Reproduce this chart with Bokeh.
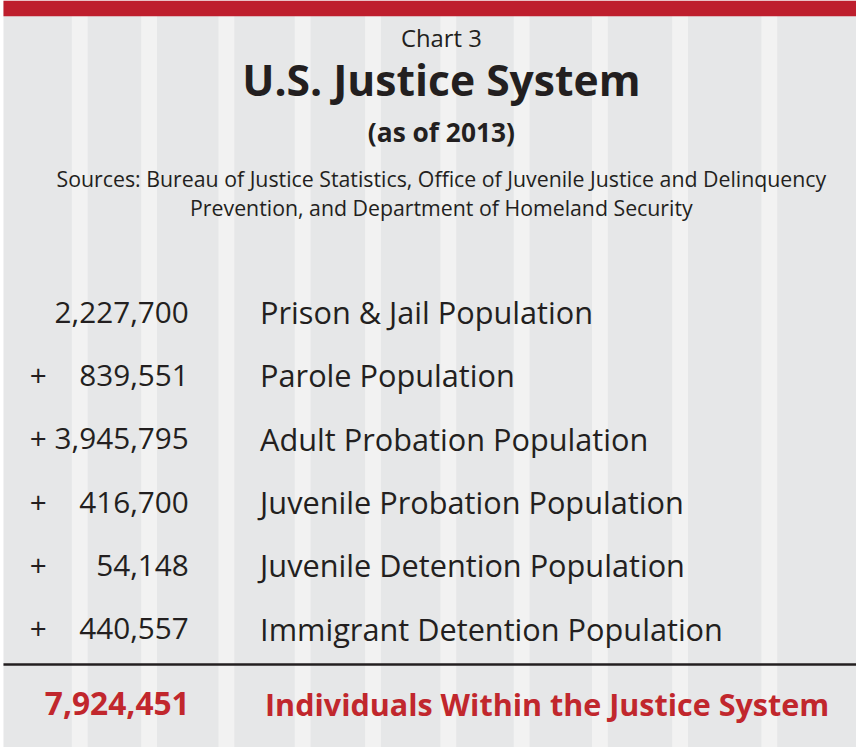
from bokeh.plotting import figure
from bokeh.models import ColumnDataSource, Range1d
from bokeh.core.properties import value
from bokeh.embed import file_html
from bokeh.resources import INLINE

# ---- data ----
chart_label = "Chart 3"
title = "U.S. Justice System"
subtitle = "(as of 2013)"
sources = ["Sources: Bureau of Justice Statistics, Office of Juvenile Justice and Delinquency",
           "Prevention, and Department of Homeland Security"]
categories = ["Prison & Jail Population", "Parole Population", "Adult Probation Population",
              "Juvenile Probation Population", "Juvenile Detention Population",
              "Immigrant Detention Population"]
values = [2227700, 839551, 3945795, 416700, 54148, 440557]
operators = ["", "+", "+", "+", "+", "+"]
total_label = "Individuals Within the Justice System"
total = sum(values)

# ---- style ----
FONT = "Open Sans"
RED = "#be1e2d"
TEXTRED = "#c1272d"
DARK = "#231f20"
BG = "#e6e7e8"
STRIPE = "#f2f2f2"
S = 856 / 864  # drawing scale


def fs(px):
    return f"{px * S:.1f}px"


p = figure(width=856, height=747, x_range=Range1d(0, 864), y_range=Range1d(755, 0),
           output_backend="svg", toolbar_location=None, min_border=0)
p.axis.visible = False
p.grid.visible = False
p.outline_line_color = None
p.background_fill_color = "white"
p.border_fill_color = "white"

# panel background and stripes
p.quad(left=[3], right=[864], top=[0], bottom=[755], fill_color=BG, line_color=None)
stripe_left = [72, 142, 220, 297, 368, 444, 518, 597, 678, 768]
p.quad(left=stripe_left, right=[s + 16 for s in stripe_left], top=0, bottom=755,
       fill_color=STRIPE, line_color=None)
# top red bar
p.quad(left=[3], right=[864], top=[0], bottom=[16], fill_color=RED, line_color=None)

cx = 445
p.text(x=[cx], y=[38], text=[chart_label], text_font=value(FONT), text_font_size=fs(24),
       text_align="center", text_baseline="middle", text_color=DARK)
p.text(x=[cx], y=[79], text=[title], text_font=value(FONT), text_font_size=fs(43),
       text_font_style="bold", text_align="center", text_baseline="middle", text_color=DARK)
p.text(x=[cx], y=[133], text=[subtitle], text_font=value(FONT), text_font_size=fs(26.5),
       text_font_style="bold", text_align="center", text_baseline="middle", text_color=DARK)
p.text(x=[cx, cx], y=[180, 209], text=sources, text_font=value(FONT), text_font_size=fs(21.5),
       text_align="center", text_baseline="middle", text_color=DARK)

row_y = [315 + 64 * i for i in range(len(values))]
src = ColumnDataSource(dict(
    y=row_y,
    num=[f"{v:,}" for v in values],
    op=operators,
    lab=categories,
))
p.text(x=38, y="y", text="op", source=src, text_font=value(FONT), text_font_size=fs(30),
       text_align="center", text_baseline="middle", text_color=DARK)
p.text(x=190, y="y", text="num", source=src, text_font=value(FONT), text_font_size=fs(30),
       text_align="right", text_baseline="middle", text_color=DARK)
p.text(x=262, y="y", text="lab", source=src, text_font=value(FONT), text_font_size=fs(31),
       text_align="left", text_baseline="middle", text_color=DARK)

# divider line
p.segment(x0=[3], x1=[864], y0=[671], y1=[671], line_color="#231f20", line_width=2.5)

# total
p.text(x=[191], y=[711], text=[f"{total:,}"], text_font=value(FONT), text_font_size=fs(32),
       text_font_style="bold", text_align="right", text_baseline="middle", text_color=TEXTRED)
p.text(x=[267], y=[711], text=[total_label], text_font=value(FONT), text_font_size=fs(30.8),
       text_font_style="bold", text_align="left", text_baseline="middle", text_color=TEXTRED)

open("out.html", "w").write(file_html(p, INLINE))
